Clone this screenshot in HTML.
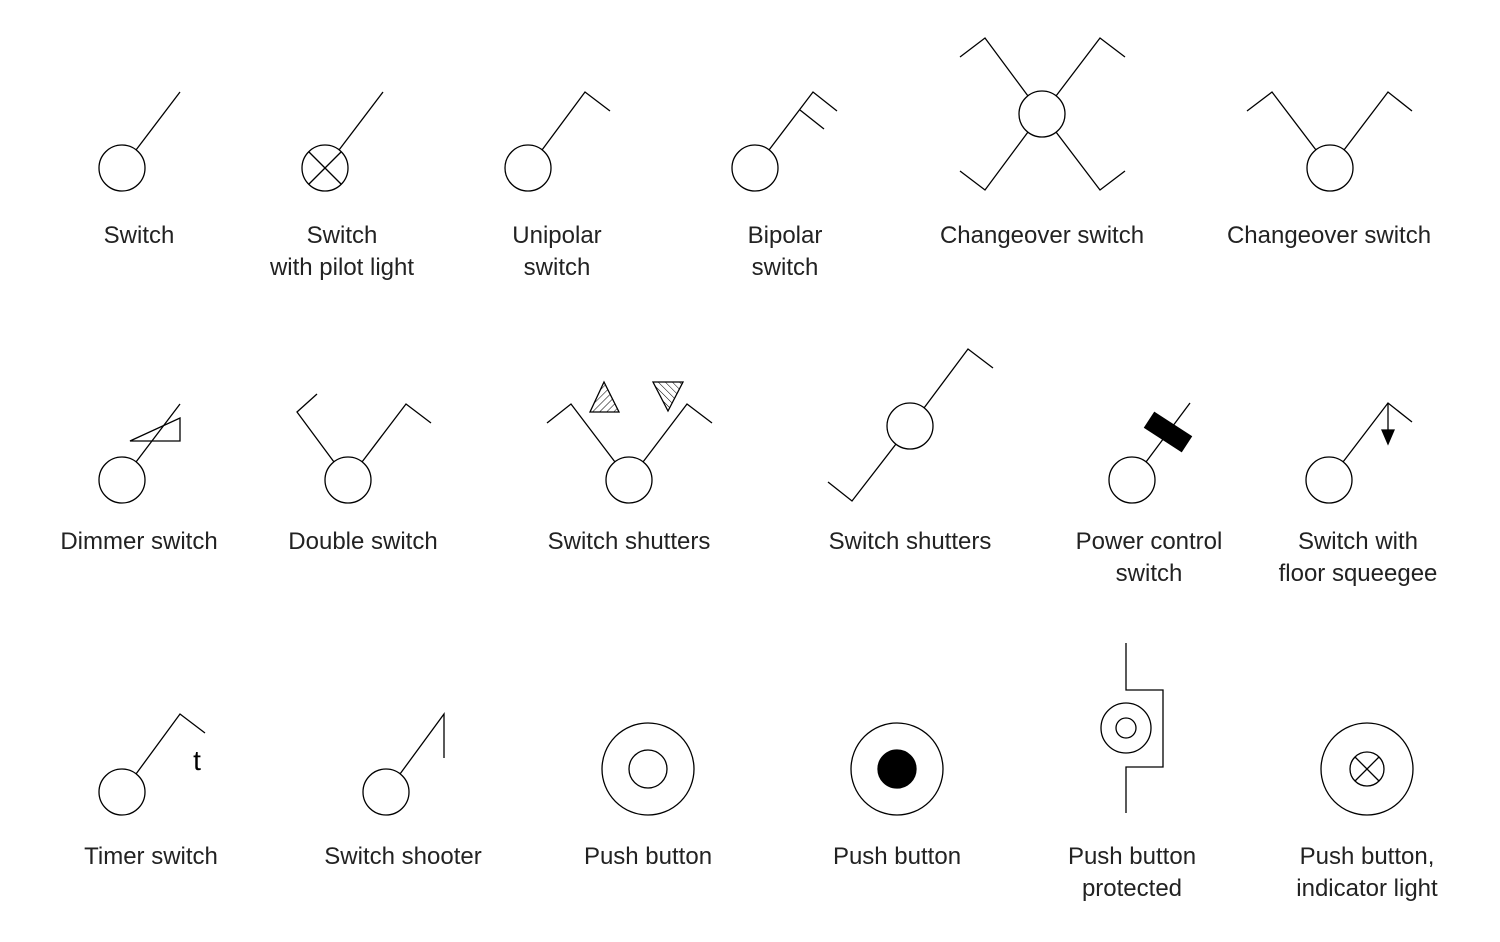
<!DOCTYPE html>
<html><head><meta charset="utf-8"><style>
html,body{margin:0;padding:0;background:#fff;}
svg text{font-family:"Liberation Sans",sans-serif;font-size:24px;fill:#222;text-anchor:middle;}
</style></head><body>
<svg width="1500" height="937" viewBox="0 0 1500 937" xmlns="http://www.w3.org/2000/svg">
<defs>
<pattern id="h1" patternUnits="userSpaceOnUse" width="5" height="5" patternTransform="rotate(45)"><line x1="0" y1="0" x2="0" y2="5" stroke="#000" stroke-width="1"/></pattern>
<pattern id="h2" patternUnits="userSpaceOnUse" width="5" height="5" patternTransform="rotate(-45)"><line x1="0" y1="0" x2="0" y2="5" stroke="#000" stroke-width="1"/></pattern>
</defs>
<g fill="none" stroke="#000" stroke-width="1.3">
<!-- Row 1 -->
<circle cx="122" cy="168" r="23"/><line x1="136" y1="150" x2="180" y2="92"/>
<circle cx="325" cy="168" r="23"/><line x1="339" y1="150" x2="383" y2="92"/>
<line x1="309" y1="152" x2="341" y2="184"/><line x1="341" y1="152" x2="309" y2="184"/>
<circle cx="528" cy="168" r="23"/><polyline points="542,150 585,92 610,111"/>
<circle cx="755" cy="168" r="23"/><polyline points="769,150 813,92 837,111"/><line x1="800" y1="110" x2="824" y2="129"/>
<circle cx="1042" cy="114" r="23"/>
<polyline points="1028,96 985,38 960,57"/><polyline points="1056,96 1100,38 1125,57"/>
<polyline points="1028,132 985,190 960,171"/><polyline points="1056,132 1100,190 1125,171"/>
<circle cx="1330" cy="168" r="23"/><polyline points="1316,150 1272,92 1247,111"/><polyline points="1344,150 1388,92 1412,111"/>
<!-- Row 2 -->
<circle cx="122" cy="480" r="23"/><line x1="136" y1="462" x2="180" y2="404"/>
<polygon points="130,441 180,418 180,441"/>
<circle cx="348" cy="480" r="23"/><polyline points="334,462 297,412 317,394"/><polyline points="362,462 406,404 431,423"/>
<circle cx="629" cy="480" r="23"/><polyline points="615,462 571,404 547,423"/><polyline points="643,462 687,404 712,423"/>
<polygon points="604,382 590,412 619,412" fill="url(#h1)"/>
<polygon points="653,382 683,382 668,411" fill="url(#h2)"/>
<circle cx="910" cy="426" r="23"/><polyline points="924,408 968,349 993,368"/><polyline points="896,444 852,501 828,482"/>
<circle cx="1132" cy="480" r="23"/><line x1="1146" y1="462" x2="1190" y2="403"/>
<rect x="-22" y="-9" width="44" height="18" fill="#000" transform="translate(1168,432) rotate(33)"/>
<circle cx="1329" cy="480" r="23"/><polyline points="1343,462 1388,403 1412,422"/><line x1="1388" y1="403" x2="1388" y2="432"/>
<polygon points="1382,430 1394,430 1388,444" fill="#000"/>
<!-- Row 3 -->
<circle cx="122" cy="792" r="23"/><polyline points="136,774 180,714 205,733"/>
<circle cx="386" cy="792" r="23"/><polyline points="400,774 444,714 444,758"/>
<circle cx="648" cy="769" r="46"/><circle cx="648" cy="769" r="19"/>
<circle cx="897" cy="769" r="46"/><circle cx="897" cy="769" r="19" fill="#000"/>
<polyline points="1126,643 1126,690 1163,690 1163,767 1126,767 1126,813"/>
<circle cx="1126" cy="728" r="25"/><circle cx="1126" cy="728" r="10"/>
<circle cx="1367" cy="769" r="46"/><circle cx="1367" cy="769" r="17"/>
<line x1="1355" y1="757" x2="1379" y2="781"/><line x1="1379" y1="757" x2="1355" y2="781"/>
</g>
<text x="197" y="770" style="font-size:28px;fill:#000">t</text>
<text x="139" y="243">Switch</text>
<text x="342" y="243">Switch</text><text x="342" y="275">with pilot light</text>
<text x="557" y="243">Unipolar</text><text x="557" y="275">switch</text>
<text x="785" y="243">Bipolar</text><text x="785" y="275">switch</text>
<text x="1042" y="243">Changeover switch</text>
<text x="1329" y="243">Changeover switch</text>
<text x="139" y="549">Dimmer switch</text>
<text x="363" y="549">Double switch</text>
<text x="629" y="549">Switch shutters</text>
<text x="910" y="549">Switch shutters</text>
<text x="1149" y="549">Power control</text><text x="1149" y="581">switch</text>
<text x="1358" y="549">Switch with</text><text x="1358" y="581">floor squeegee</text>
<text x="151" y="864">Timer switch</text>
<text x="403" y="864">Switch shooter</text>
<text x="648" y="864">Push button</text>
<text x="897" y="864">Push button</text>
<text x="1132" y="864">Push button</text><text x="1132" y="896">protected</text>
<text x="1367" y="864">Push button,</text><text x="1367" y="896">indicator light</text>
</svg>
</body></html>
